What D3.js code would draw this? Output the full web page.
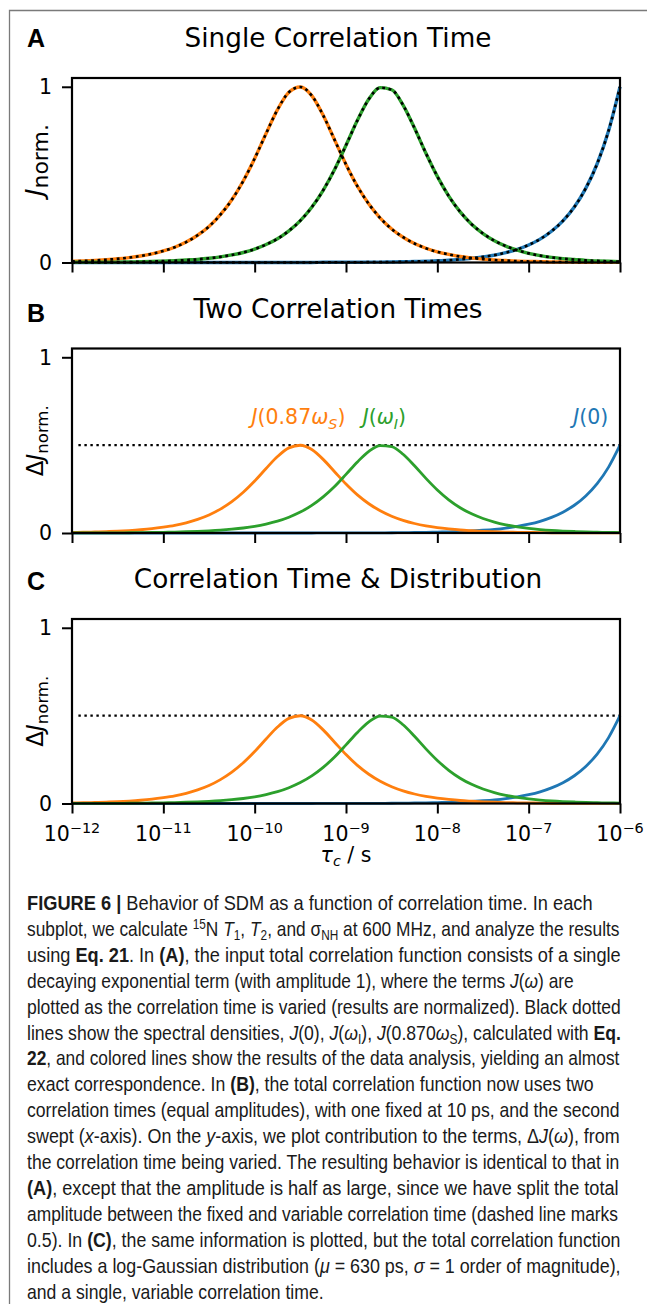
<!DOCTYPE html>
<html>
<head>
<meta charset="utf-8">
<script src="https://cdn.jsdelivr.net/npm/d3@7"></script>
<style>
  html, body { margin: 0; padding: 0; background: #fff; }
  svg { display: block; }
</style>
</head>
<body>
<svg id="fig" width="647" height="1304"></svg>
<script>
// log10 of the swept correlation time (s)
const tauExp = [
  -12, -11.875, -11.75, -11.625, -11.5, -11.375, -11.25, -11.125,
  -11, -10.875, -10.75, -10.625, -10.5, -10.375, -10.25, -10.125,
  -10, -9.875, -9.75, -9.625, -9.5, -9.375, -9.25, -9.125,
  -9, -8.875, -8.75, -8.625, -8.5, -8.375, -8.25, -8.125,
  -8, -7.875, -7.75, -7.625, -7.5, -7.375, -7.25, -7.125,
  -7, -6.875, -6.75, -6.625, -6.5, -6.375, -6.25, -6.125, -6
];

// Panel A: normalized J(0.87 wS), J(wI), J(0) for a single correlation time
const singleOrange = [
  0.007, 0.009, 0.012, 0.016, 0.021, 0.028, 0.037, 0.049,
  0.066, 0.087, 0.116, 0.155, 0.205, 0.272, 0.357, 0.464,
  0.592, 0.734, 0.870, 0.969, 0.999, 0.950, 0.838, 0.698,
  0.558, 0.434, 0.333, 0.253, 0.191, 0.144, 0.108, 0.081,
  0.061, 0.046, 0.034, 0.026, 0.019, 0.014, 0.011, 0.008,
  0.006, 0.005, 0.003, 0.003, 0.002, 0.001, 0.001, 0.001, 0.001
];
const singleGreen = [
  0.001, 0.001, 0.001, 0.002, 0.002, 0.003, 0.004, 0.006,
  0.008, 0.010, 0.014, 0.018, 0.024, 0.032, 0.043, 0.057,
  0.076, 0.102, 0.135, 0.180, 0.238, 0.314, 0.411, 0.529,
  0.667, 0.809, 0.930, 0.995, 0.983, 0.896, 0.765, 0.622,
  0.490, 0.378, 0.288, 0.218, 0.165, 0.124, 0.093, 0.070,
  0.052, 0.039, 0.029, 0.022, 0.017, 0.012, 0.009, 0.007, 0.005
];
const singleBlue = [
  0, 0, 0, 0, 0, 0, 0, 0,
  0, 0, 0, 0, 0, 0, 0, 0,
  0, 0, 0, 0, 0, 0, 0.001, 0.001,
  0.001, 0.001, 0.002, 0.002, 0.003, 0.004, 0.006, 0.007,
  0.010, 0.013, 0.018, 0.024, 0.032, 0.042, 0.056, 0.075,
  0.100, 0.133, 0.178, 0.237, 0.316, 0.422, 0.562, 0.750, 1.000
];

// Panels B and C: contribution of the varied correlation time, delta J
const deltaOrange = [
  0.0035, 0.0045, 0.006, 0.008, 0.0105, 0.014, 0.0185, 0.0245,
  0.033, 0.0435, 0.058, 0.0775, 0.1025, 0.136, 0.1785, 0.232,
  0.296, 0.367, 0.435, 0.4845, 0.4995, 0.475, 0.419, 0.349,
  0.279, 0.217, 0.1665, 0.1265, 0.0955, 0.072, 0.054, 0.0405,
  0.0305, 0.023, 0.017, 0.013, 0.0095, 0.007, 0.0055, 0.004,
  0.003, 0.0025, 0.0015, 0.0015, 0.001, 0.0005, 0.0005, 0.0005, 0.0005
];
const deltaGreen = [
  0.0005, 0.0005, 0.0005, 0.001, 0.001, 0.0015, 0.002, 0.003,
  0.004, 0.005, 0.007, 0.009, 0.012, 0.016, 0.0215, 0.0285,
  0.038, 0.051, 0.0675, 0.09, 0.119, 0.157, 0.2055, 0.2645,
  0.3335, 0.4045, 0.465, 0.4975, 0.4915, 0.448, 0.3825, 0.311,
  0.245, 0.189, 0.144, 0.109, 0.0825, 0.062, 0.0465, 0.035,
  0.026, 0.0195, 0.0145, 0.011, 0.0085, 0.006, 0.0045, 0.0035, 0.0025
];
const deltaBlue = [
  0, 0, 0, 0, 0, 0, 0, 0,
  0, 0, 0, 0, 0, 0, 0, 0,
  0, 0, 0, 0, 0, 0, 0.0005, 0.0005,
  0.0005, 0.0005, 0.001, 0.001, 0.0015, 0.002, 0.003, 0.0035,
  0.005, 0.0065, 0.009, 0.012, 0.016, 0.021, 0.028, 0.0375,
  0.05, 0.0665, 0.089, 0.1185, 0.158, 0.211, 0.281, 0.375, 0.5
];

// Reference level for the split amplitude (dotted line in B and C)
const halfLevel = 0.5;
const halfLineStartExp = -11.93;

// Axis ticks
const xTickExps = [-12, -11, -10, -9, -8, -7, -6];
const yTickValues = [0, 1];

// Series labels drawn in panel B
const seriesLabels = [
  { key: "orange", exp: -9.52, parts: [["J", "i"], ["(0.87", ""], ["ω", "i"], ["S", "isub"], [")", ""]] },
  { key: "green",  exp: -8.58, parts: [["J", "i"], ["(", ""], ["ω", "i"], ["I", "isub"], [")", ""]] },
  { key: "blue",   exp: -6.32, parts: [["J", "i"], ["(0)", ""]] }
];

const colors = { orange: "#ff7f0e", green: "#2ca02c", blue: "#1f77b4" };

const panelDefs = [
  { letter: "A", title: "Single Correlation Time", delta: false, top: 78,
    series: { blue: singleBlue, orange: singleOrange, green: singleGreen },
    dotted: true, half: false, labels: false, xlabels: false,
    ylabSize: [25, 22], ylabCenter: 160, letterDy: 0 },
  { letter: "B", title: "Two Correlation Times", delta: true, top: 348.5,
    series: { blue: deltaBlue, orange: deltaOrange, green: deltaGreen },
    dotted: false, half: true, labels: true, xlabels: false,
    ylabSize: [23, 16.5], ylabCenter: null, letterDy: 4 },
  { letter: "C", title: "Correlation Time & Distribution", delta: true, top: 619,
    series: { blue: deltaBlue, orange: deltaOrange, green: deltaGreen },
    dotted: false, half: true, labels: false, xlabels: true,
    ylabSize: [23, 16.5], ylabCenter: null, letterDy: 2 }
];

// Caption text, one entry per line; style codes: b bold, i italic, sup, sub
const captionLines = [
  [["FIGURE 6 |", "b"], [" Behavior of SDM as a function of correlation time. In each", ""]],
  [["subplot, we calculate ", ""], ["15", "sup"], ["N ", ""], ["T", "i"], ["1", "sub"], [", ", ""], ["T", "i"], ["2", "sub"], [", and σ", ""], ["NH", "sub"], [" at 600 MHz, and analyze the results", ""]],
  [["using ", ""], ["Eq. 21", "b"], [". In ", ""], ["(A)", "b"], [", the input total correlation function consists of a single", ""]],
  [["decaying exponential term (with amplitude 1), where the terms ", ""], ["J", "i"], ["(", ""], ["ω", "i"], [") are", ""]],
  [["plotted as the correlation time is varied (results are normalized). Black dotted", ""]],
  [["lines show the spectral densities, ", ""], ["J", "i"], ["(0), ", ""], ["J", "i"], ["(", ""], ["ω", "i"], ["I", "sub"], ["), ", ""], ["J", "i"], ["(0.870", ""], ["ω", "i"], ["S", "sub"], ["), calculated with ", ""], ["Eq.", "b"]],
  [["22", "b"], [", and colored lines show the results of the data analysis, yielding an almost", ""]],
  [["exact correspondence. In ", ""], ["(B)", "b"], [", the total correlation function now uses two", ""]],
  [["correlation times (equal amplitudes), with one fixed at 10 ps, and the second", ""]],
  [["swept (", ""], ["x", "i"], ["-axis). On the ", ""], ["y", "i"], ["-axis, we plot contribution to the terms, Δ", ""], ["J", "i"], ["(", ""], ["ω", "i"], ["), from", ""]],
  [["the correlation time being varied. The resulting behavior is identical to that in", ""]],
  [["(A)", "b"], [", except that the amplitude is half as large, since we have split the total", ""]],
  [["amplitude between the fixed and variable correlation time (dashed line marks", ""]],
  [["0.5). In ", ""], ["(C)", "b"], [", the same information is plotted, but the total correlation function", ""]],
  [["includes a log-Gaussian distribution (", ""], ["μ", "i"], [" = 630 ps, ", ""], ["σ", "i"], [" = 1 order of magnitude),", ""]],
  [["and a single, variable correlation time.", ""]]
];
const captionWidths = [566, 593, 594, 547, 594, 594, 593, 567, 593, 593, 593, 592, 591, 594, 594, null];

// ---------------------------------------------------------------
const svg = d3.select("#fig");
const W = 647, H = 1304;
svg.append("rect").attr("width", W).attr("height", H).attr("fill", "#fff");

// page frame (top and left rule)
svg.append("path")
  .attr("d", `M9.5,${H} V10.5 H${W}`)
  .attr("fill", "none").attr("stroke", "#7a7a7a").attr("stroke-width", 1.3);

const plotLeft = 72, plotRight = 620, plotH = 184.5;
const mathFont = "'DejaVu Sans', sans-serif";
const tickFont = 20.5;

const x = d3.scaleLog().domain([1e-12, 1e-6]).range([plotLeft, plotRight]);

panelDefs.forEach(p => {
  const top = p.top, bottom = top + plotH;
  const y = d3.scaleLinear().domain([0, 1.05]).range([bottom, top]);
  const g = svg.append("g");

  // panel letter and title
  g.append("text").attr("x", 27).attr("y", top - 31 + p.letterDy)
    .style("font-family", "'Liberation Sans', Arial, sans-serif")
    .style("font-weight", "bold").style("font-size", "25px").text(p.letter);
  g.append("text").attr("x", 338).attr("y", top - 31).attr("text-anchor", "middle")
    .style("font-family", mathFont).style("font-size", "26.3px").text(p.title);

  const line = d3.line()
    .x((d, i) => x(Math.pow(10, tauExp[i])))
    .y(d => y(d))
    .curve(d3.curveMonotoneX);

  // half-amplitude reference
  if (p.half) {
    g.append("line")
      .attr("x1", x(Math.pow(10, halfLineStartExp))).attr("x2", x(1e-6))
      .attr("y1", y(halfLevel)).attr("y2", y(halfLevel))
      .attr("stroke", "#000").attr("stroke-width", 2.4)
      .attr("stroke-dasharray", "2.4 3.6");
  }

  ["blue", "orange", "green"].forEach(k => {
    g.append("path").datum(p.series[k]).attr("d", line)
      .attr("fill", "none").attr("stroke", colors[k])
      .attr("stroke-width", p.dotted ? 3.4 : 2.8)
      .attr("stroke-linejoin", "round");
  });
  if (p.dotted) {
    ["blue", "orange", "green"].forEach(k => {
      g.append("path").datum(p.series[k]).attr("d", line)
        .attr("fill", "none").attr("stroke", "#000")
        .attr("stroke-width", 2.6).attr("stroke-dasharray", "2.8 3.6");
    });
  }

  // series labels
  if (p.labels) {
    seriesLabels.forEach(L => {
      const t = g.append("text")
        .attr("x", x(Math.pow(10, L.exp))).attr("y", y(0.62))
        .attr("text-anchor", "middle")
        .attr("fill", colors[L.key])
        .style("font-family", mathFont).style("font-size", tickFont + "px");
      let shift = 0;
      L.parts.forEach(([s, st]) => {
        const ts = t.append("tspan").text(s);
        const want = st === "isub" ? 4.5 : 0;
        if (want !== shift) { ts.attr("dy", want - shift); shift = want; }
        if (st === "i" || st === "isub") ts.attr("font-style", "italic");
        if (st === "isub") ts.attr("font-size", "14.4px");
      });
    });
  }

  // axes
  const yAxis = d3.axisLeft(y).tickValues(yTickValues).tickSize(10).tickPadding(10)
    .tickFormat(d3.format("d"));
  const ya = g.append("g").attr("transform", `translate(${plotLeft},0)`).call(yAxis);
  ya.select(".domain").remove();
  ya.selectAll(".tick line").attr("stroke", "#000").attr("stroke-width", 2);
  ya.selectAll(".tick text").attr("fill", "#000")
    .style("font-family", mathFont).style("font-size", tickFont + "px").attr("dy", "0.33em");

  const xAxis = d3.axisBottom(x).tickValues(xTickExps.map(e => Math.pow(10, e)))
    .tickSize(10).tickFormat("");
  const xa = g.append("g").attr("transform", `translate(0,${bottom})`).call(xAxis);
  xa.select(".domain").remove();
  xa.selectAll(".tick line").attr("stroke", "#000").attr("stroke-width", 2);
  xa.selectAll(".tick text").remove();
  if (p.xlabels) {
    xTickExps.forEach(e => {
      const t = g.append("text").attr("x", x(Math.pow(10, e))).attr("y", bottom + 37)
        .attr("text-anchor", "middle")
        .style("font-family", mathFont).style("font-size", tickFont + "px");
      t.append("tspan").text("10");
      t.append("tspan").attr("dy", -7.5).attr("font-size", "14.4px")
        .text((e < 0 ? "\u2212" : "") + Math.abs(e));
    });
    const xl = g.append("text").attr("x", (plotLeft + plotRight) / 2).attr("y", bottom + 58)
      .attr("text-anchor", "middle")
      .style("font-family", mathFont).style("font-size", tickFont + "px");
    xl.append("tspan").attr("font-style", "italic").text("τ");
    xl.append("tspan").attr("font-style", "italic").attr("font-size", "14.4px").attr("dy", 4).text("c");
    xl.append("tspan").attr("dy", -4).text(" / s");
  }

  // y label
  const cy = p.ylabCenter || (top + bottom) / 2;
  const yl = g.append("text").attr("transform", `translate(43,${cy}) rotate(-90)`)
    .attr("text-anchor", "middle")
    .style("font-family", mathFont).style("font-size", p.ylabSize[0] + "px");
  if (p.delta) yl.append("tspan").text("Δ");
  yl.append("tspan").attr("font-style", "italic").text("J");
  yl.append("tspan").attr("font-size", p.ylabSize[1] + "px").attr("dy", 4.5).text("norm.");

  // axes frame
  g.append("rect").attr("x", plotLeft).attr("y", top)
    .attr("width", plotRight - plotLeft).attr("height", plotH)
    .attr("fill", "none").attr("stroke", "#000").attr("stroke-width", 2.2);
});

// ---------------------------------------------------------------
// caption: condensed sans set line by line
const capX = 27, capY0 = 910, capStep = 25.9;
const capNodes = [];
captionLines.forEach((segs, i) => {
  const holder = svg.append("g");
  const t = holder.append("text").attr("x", 0).attr("y", 0)
    .attr("fill", "#1a1a1a")
    .style("font-family", "'Liberation Sans Narrow', 'Liberation Sans', Arial, sans-serif")
    .style("font-size", "20.5px");
  let shift = 0;
  segs.forEach(([s, st]) => {
    const ts = t.append("tspan").text(s);
    const want = st === "sup" ? -7 : (st === "sub" ? 4 : 0);
    if (want !== shift) { ts.attr("dy", want - shift); shift = want; }
    if (st === "b") ts.attr("font-weight", "bold");
    if (st === "i") ts.attr("font-style", "italic");
    if (st === "sup" || st === "sub") ts.attr("font-size", "14px");
  });
  capNodes.push({ holder, t, y: capY0 + i * capStep });
});
// horizontal condensing factor per line, the last line takes the median
const factors = [];
capNodes.forEach((c, i) => {
  const w = c.t.node().getComputedTextLength();
  c.w = w;
  if (captionWidths[i] && w > 0) { c.k = captionWidths[i] / w; factors.push(c.k); }
});
const medK = d3.median(factors) || 1;
capNodes.forEach(c => {
  const k = c.k || medK;
  c.holder.attr("transform", `translate(${capX},${c.y}) scale(${k.toFixed(4)},1)`);
});
</script>
</body>
</html>
